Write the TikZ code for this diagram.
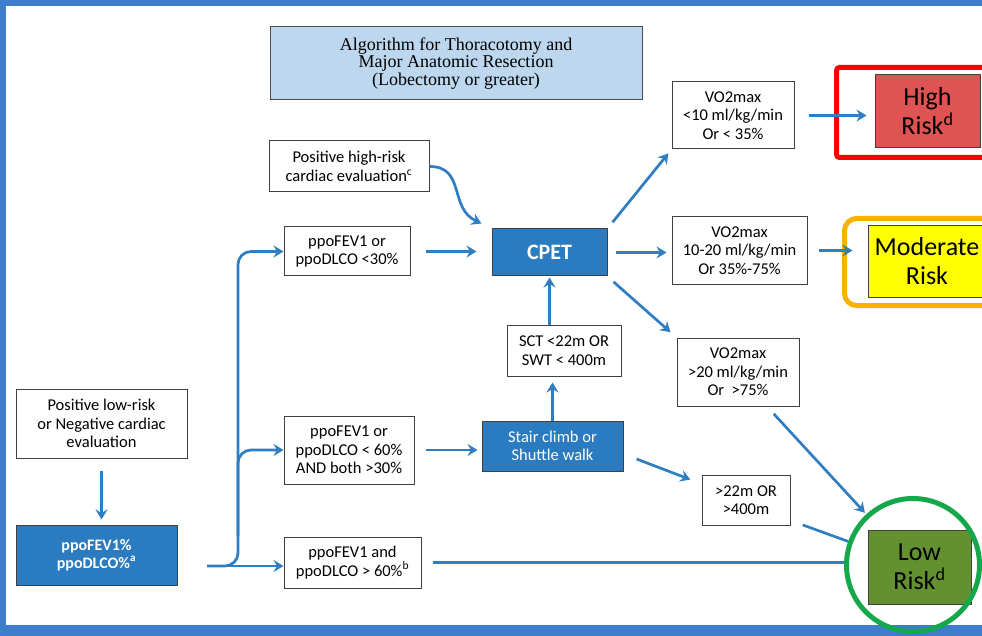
\documentclass[tikz,border=0pt]{standalone}
\usepackage{fontspec}
\setmainfont{Carlito}
\newfontfamily\titlefont{Liberation Serif}
\usetikzlibrary{arrows.meta}
\definecolor{frameblue}{HTML}{3D7DCA}
\definecolor{lineblue}{HTML}{2F7EC1}
\definecolor{stepblue}{HTML}{2A7BBF}
\definecolor{titleblue}{HTML}{BDD7EE}
\definecolor{highred}{HTML}{E05353}
\definecolor{modyellow}{HTML}{FFFF00}
\definecolor{lowgreen}{HTML}{64912F}
\definecolor{ringred}{HTML}{FF0000}
\definecolor{ringorange}{HTML}{F9B200}
\definecolor{ringgreen}{HTML}{14A84B}
\tikzset{
box/.style={draw=black!75,line width=1pt,align=center,inner sep=0pt,fill=white,
  font=\fontsize{16.5}{18.5}\selectfont},
bluebox/.style={box,fill=stepblue,text=white},
riskbox/.style={draw=black!75,line width=1pt,align=center,inner sep=0pt,
  font=\fontsize{26}{29}\selectfont},
arr/.style={-{Stealth[length=10pt,width=12pt,inset=3.5pt]},line width=2.7pt,draw=lineblue},
link/.style={line width=2.7pt,draw=lineblue},
ring/.style={line width=5pt,inner sep=0pt}
}
\begin{document}
\begin{tikzpicture}[x=1pt,y=1pt]
\useasboundingbox (0,0) rectangle (982,-636);
\clip (0,0) rectangle (982,-636);
\fill[frameblue] (0,0) rectangle (982,-6);
\fill[frameblue] (0,0) rectangle (6,-636);
\fill[frameblue] (0,-625) rectangle (982,-636);
\node[draw=black!70,line width=1pt,fill=titleblue,minimum width=372pt,minimum height=73pt,
  align=center,font=\titlefont\fontsize{18}{17.5}\selectfont] (title) at (456,-63.5)
  {Algorithm for Thoracotomy and\\Major Anatomic Resection\\(Lobectomy or greater)};
\node[box,minimum width=171pt,minimum height=69pt] (cardlow) at (101.5,-423.5)
  {Positive low-risk\\or Negative cardiac\\evaluation};
\node[bluebox,minimum width=161pt,minimum height=60pt,font=\bfseries\fontsize{16}{17.5}\selectfont] (ppo) at (96.5,-555)
  {ppoFEV1\%\\ppoDLCO\%\textsuperscript{a}};
\node[box,minimum width=160pt,minimum height=51pt] (hirisk) at (349,-166.5)
  {Positive high-risk\\cardiac evaluation\textsuperscript{c}};
\node[box,minimum width=126pt,minimum height=49pt] (low30) at (347,-251.5)
  {ppoFEV1 or\\ppoDLCO <30\%};
\node[box,minimum width=130pt,minimum height=68pt] (mid60) at (349,-450)
  {ppoFEV1 or\\ppoDLCO < 60\%\\AND both >30\%};
\node[box,minimum width=137pt,minimum height=51pt] (hi60) at (352.5,-562.5)
  {ppoFEV1 and\\ppoDLCO > 60\%\textsuperscript{b}};
\node[bluebox,minimum width=115pt,minimum height=47pt,font=\bfseries\fontsize{22}{24}\selectfont] (cpet) at (549.5,-252.5) {CPET};
\node[box,minimum width=114pt,minimum height=51pt] (sct) at (564,-350.5)
  {SCT <22m OR\\SWT < 400m};
\node[bluebox,minimum width=141pt,minimum height=50pt] (stair) at (552.5,-446)
  {Stair climb or\\Shuttle walk};
\node[box,minimum width=122pt,minimum height=67pt] (vohi) at (733,-115.5)
  {VO2max\\<10 ml/kg/min\\Or < 35\%};
\node[box,minimum width=135pt,minimum height=67pt] (vomid) at (739.5,-250.5)
  {VO2max\\10-20 ml/kg/min\\Or 35\%-75\%};
\node[box,minimum width=122pt,minimum height=68pt] (volo) at (738,-372)
  {VO2max\\>20 ml/kg/min\\Or~ >75\%};
\node[box,minimum width=88pt,minimum height=50pt] (walk) at (746,-500)
  {>22m OR\\>400m};
\node[riskbox,fill=highred,minimum width=105pt,minimum height=73pt] (high) at (927.5,-111.5)
  {High\\Risk\textsuperscript{d}};
\node[riskbox,fill=modyellow,minimum width=118pt,minimum height=71pt] (moderate) at (927,-261.5)
  {Moderate\\Risk};
\node[riskbox,fill=lowgreen,minimum width=103pt,minimum height=74pt] (low) at (919.5,-567)
  {Low\\Risk\textsuperscript{d}};
\node[ring,draw=ringred,rounded corners=3pt,minimum width=163pt,minimum height=90pt] (highring) at (918,-112.5) {};
\node[ring,draw=ringorange,rounded corners=12pt,minimum width=155pt,minimum height=87pt] (modring) at (922,-262) {};
\node[ring,draw=ringgreen,circle,minimum size=133pt] (lowring) at (913,-565) {};
\coordinate (fork) at (207,-566);
\coordinate (spine) at (238,-566);
\draw[arr,shorten <=12pt,shorten >=5pt] (cardlow.south) -- (cardlow.south |- ppo.north);
\draw[arr,rounded corners=13pt] (fork) -- (spine) |- (low30.west);
\draw[arr,rounded corners=13pt] ([yshift=30pt]spine) |- (mid60.west);
\draw[arr] (fork) -- (fork -| hi60.west);
\draw[arr] (hirisk.east) to[out=0,in=155,looseness=1.2] ([xshift=-10pt,yshift=5pt]cpet.north west);
\draw[arr,shorten <=15pt,shorten >=15pt] (low30.east) -- (low30.east -| cpet.west);
\draw[arr,shorten <=11pt,shorten >=4pt] (mid60.east) -- (mid60.east -| stair.west);
\draw[arr,shorten >=6pt] (stair.north) -- (stair.north |- sct.south);
\draw[arr,shorten >=1pt] (cpet.south |- sct.north) -- (cpet.south);
\draw[arr,shorten <=8pt,shorten >=5pt] (cpet.north east) -- (vohi.south west);
\draw[arr,shorten <=8pt,shorten >=5pt] (cpet.east) -- (cpet.east -| vomid.west);
\draw[arr,shorten <=8pt,shorten >=8pt] (cpet.south east) -- (volo.north west);
\draw[arr,shorten <=14pt,shorten >=8pt] (vohi.east) -- (vohi.east -| high.west);
\draw[arr,shorten <=11pt,shorten >=15pt] (vomid.east) -- (vomid.east -| moderate.west);
\draw[arr,shorten <=14pt,shorten >=12pt] ([yshift=-8pt]stair.east) -- (walk.160);
\draw[arr,shorten <=10pt,shorten >=2pt] ([xshift=29pt]volo.south) -- (lowring);
\draw[link,shorten <=13pt] ([yshift=5pt]walk.south east) -- (lowring);
\draw[link,shorten <=11pt] (hi60.east) -- (hi60.east -| lowring.west);
\end{tikzpicture}
\end{document}
